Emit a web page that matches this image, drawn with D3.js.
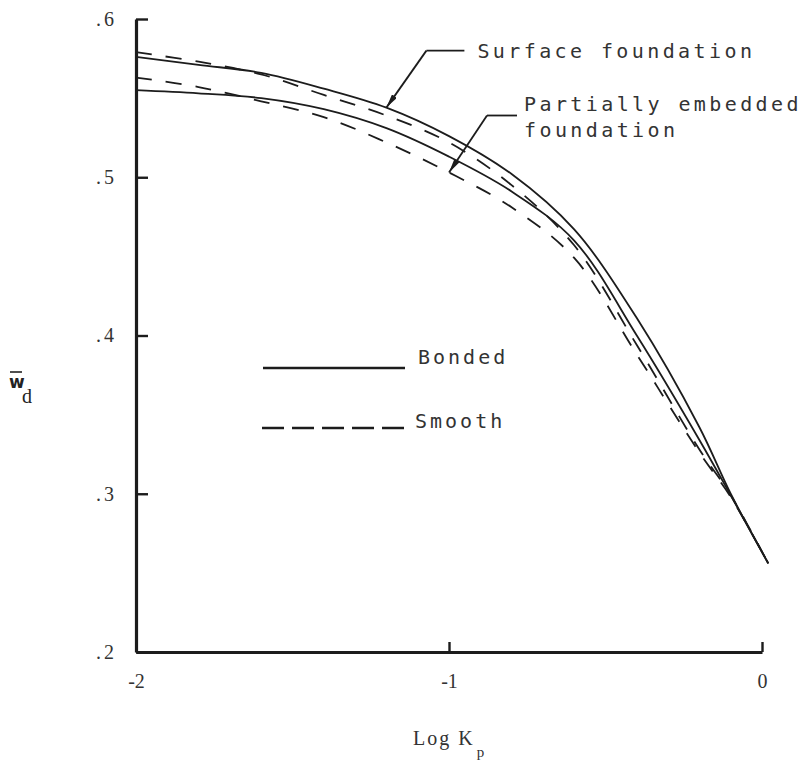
<!DOCTYPE html>
<html>
<head>
<meta charset="utf-8">
<script src="https://cdn.jsdelivr.net/npm/d3@7"></script>
<style>
  body { margin: 0; background: #fff; }
  svg { display: block; background: #fff; }
</style>
</head>
<body>
<svg id="chart" width="807" height="765"></svg>
<script>
// Dimensionless displacement w_d versus log of the relative stiffness K_p
const logK = [-2, -1.8, -1.6, -1.4, -1.2, -1.0, -0.8, -0.6, -0.4, -0.2, -0.1, 0.02];
const surfaceBonded  = [.576, .571, .566, .556, .544, .526, .502, .467, .411, .342, .300, .256];
const embeddedBonded = [.555, .553, .550, .543, .531, .513, .491, .460, .400, .334, .299, .256];
const surfaceSmooth  = [.579, .573, .565, .552, .539, .522, .495, .457, .394, .328, .299, .256];
const embeddedSmooth = [.563, .557, .548, .538, .522, .503, .481, .449, .388, .326, .298, .256];

const xTicks = [-2, -1, 0];
const xTickLabels = ["-2", "-1", "0"];
const yTicks = [0.2, 0.3, 0.4, 0.5, 0.6];
const yTickLabels = [".2", ".3", ".4", ".5", ".6"];

const seriesList = [
  { values: surfaceBonded,  dashed: false },
  { values: embeddedBonded, dashed: false },
  { values: surfaceSmooth,  dashed: true },
  { values: embeddedSmooth, dashed: true }
];

const ink = "#1c1c1c";
const typeFont = "'DejaVu Sans Mono', 'Liberation Mono', monospace";
const numFont = "'Liberation Serif', 'DejaVu Serif', serif";

const svg = d3.select("#chart");

const x = d3.scaleLinear().domain([-2, 0]).range([136, 762]);
const y = d3.scaleLinear().domain([0.2, 0.6]).range([652, 19]);

// Axes with inward ticks
const yAxis = svg.append("g")
  .attr("transform", `translate(${x(-2)},0)`)
  .call(d3.axisLeft(y)
    .tickValues(yTicks)
    .tickFormat((d, i) => yTickLabels[i])
    .tickSize(-12)
    .tickSizeOuter(0)
    .tickPadding(19));

const xAxis = svg.append("g")
  .attr("transform", `translate(0,${y(0.2)})`)
  .call(d3.axisBottom(x)
    .tickValues(xTicks)
    .tickFormat((d, i) => xTickLabels[i])
    .tickSize(-10)
    .tickSizeOuter(0)
    .tickPadding(22));

[yAxis, xAxis].forEach(g => {
  g.select(".domain").attr("stroke", ink).attr("stroke-width", 3.2);
  g.selectAll(".tick line").attr("stroke", ink).attr("stroke-width", 2.4);
  g.selectAll(".tick text")
    .attr("fill", "#333")
    .style("font-family", numFont)
    .style("font-size", "20px");
});
yAxis.selectAll(".tick text").style("letter-spacing", "3px");

// Curves
const line = d3.line()
  .x((d, i) => x(logK[i]))
  .y(d => y(d))
  .curve(d3.curveCatmullRom.alpha(0.5));

svg.append("g")
  .selectAll("path")
  .data(seriesList)
  .join("path")
  .attr("d", s => line(s.values))
  .attr("fill", "none")
  .attr("stroke", ink)
  .attr("stroke-width", 1.8)
  .attr("stroke-dasharray", s => s.dashed ? "16,14" : null);

// Legend
const legend = svg.append("g");
legend.append("line")
  .attr("x1", 263).attr("x2", 405).attr("y1", 368).attr("y2", 368)
  .attr("stroke", ink).attr("stroke-width", 2.6);
legend.append("text")
  .attr("x", 418).attr("y", 364)
  .text("Bonded");
legend.append("line")
  .attr("x1", 262).attr("x2", 404).attr("y1", 428).attr("y2", 428)
  .attr("stroke", ink).attr("stroke-width", 2.6)
  .attr("stroke-dasharray", "22,8");
legend.append("text")
  .attr("x", 415).attr("y", 428)
  .text("Smooth");
legend.selectAll("text")
  .attr("fill", "#333")
  .style("font-family", typeFont)
  .style("font-size", "20px")
  .style("letter-spacing", "3px");

// Arrow marker for the callouts
svg.append("defs").append("marker")
  .attr("id", "arrow")
  .attr("viewBox", "0 0 14 6")
  .attr("refX", 14).attr("refY", 3)
  .attr("markerWidth", 14).attr("markerHeight", 6)
  .attr("markerUnits", "userSpaceOnUse")
  .attr("orient", "auto")
  .append("path")
  .attr("d", "M0,0 L14,3 L0,6 Z")
  .attr("fill", ink);

// Callouts pointing at the curves
const callouts = [
  { k: -1.2, v: surfaceBonded[logK.indexOf(-1.2)], elbow: [40, -57], run: 38,
    lines: ["Surface foundation"], tx: 91, ty: -50 },
  { k: -1.0, v: embeddedSmooth[logK.indexOf(-1.0)], elbow: [38, -57], run: 30,
    lines: ["Partially embedded", "foundation"], tx: 75, ty: -62 }
];

callouts.forEach(c => {
  const tipX = x(c.k), tipY = y(c.v);
  const ex = tipX + c.elbow[0], ey = tipY + c.elbow[1];
  svg.append("line")
    .attr("x1", ex + c.run).attr("y1", ey).attr("x2", ex).attr("y2", ey)
    .attr("stroke", ink).attr("stroke-width", 1.8);
  svg.append("line")
    .attr("x1", ex).attr("y1", ey).attr("x2", tipX).attr("y2", tipY)
    .attr("stroke", ink).attr("stroke-width", 1.8)
    .attr("marker-end", "url(#arrow)");
  const t = svg.append("text")
    .attr("x", tipX + c.tx).attr("y", tipY + c.ty)
    .attr("fill", "#333")
    .style("font-family", typeFont)
    .style("font-size", "20px")
    .style("letter-spacing", "3.4px");
  c.lines.forEach((s, i) => {
    t.append("tspan")
      .attr("x", tipX + c.tx)
      .attr("dy", i === 0 ? 0 : 26)
      .text(s);
  });
});

// Axis titles
const yTitle = svg.append("g").attr("fill", "#222");
yTitle.append("text")
  .attr("x", 9).attr("y", 388)
  .style("font-family", "'DejaVu Sans', sans-serif")
  .style("font-size", "17px")
  .style("font-weight", "bold")
  .text("w");
yTitle.append("line")
  .attr("x1", 10).attr("x2", 22).attr("y1", 372).attr("y2", 372)
  .attr("stroke", "#222").attr("stroke-width", 1.6);
yTitle.append("text")
  .attr("x", 22).attr("y", 403)
  .style("font-family", numFont)
  .style("font-size", "20px")
  .text("d");

const xTitle = svg.append("text")
  .attr("x", 413).attr("y", 745)
  .attr("fill", "#333")
  .style("font-family", numFont)
  .style("font-size", "20px")
  .style("letter-spacing", "2px");
xTitle.append("tspan").text("Log K");
xTitle.append("tspan")
  .attr("dx", 2).attr("dy", 12)
  .style("font-size", "15px")
  .text("p");
</script>
</body>
</html>
